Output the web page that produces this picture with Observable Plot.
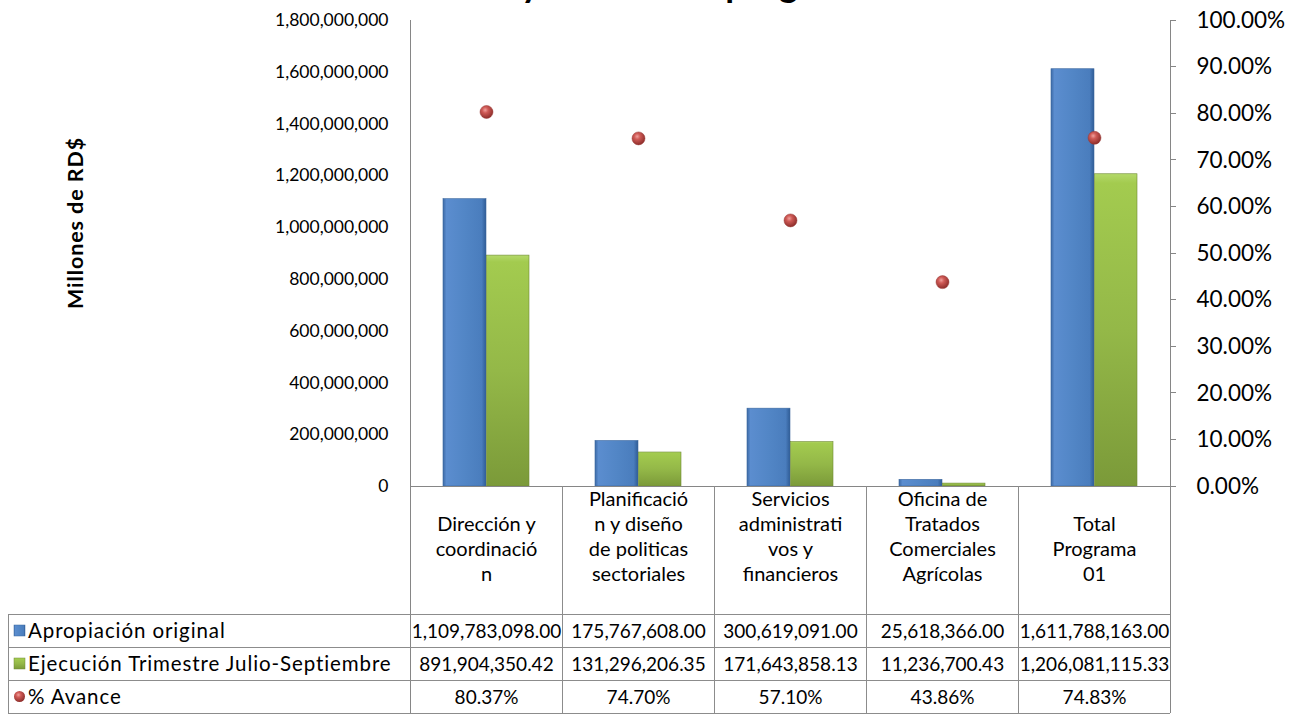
<!DOCTYPE html>
<html>
<head>
<meta charset="utf-8">
<script src="https://cdn.jsdelivr.net/npm/d3@7"></script>
<script src="https://cdn.jsdelivr.net/npm/@observablehq/plot@0.6"></script>
<style>
html, body { margin: 0; padding: 0; background: #fff; }
#chart { position: relative; width: 1292px; height: 721px; overflow: hidden; }
#chart svg { font-family: Lato, "Open Sans", sans-serif; }
</style>
</head>
<body>
<div id="chart"></div>
<script>
// ---- Data ----
const categories = [
  "Dirección y coordinación",
  "Planificación y diseño de politicas sectoriales",
  "Servicios administrativos y financieros",
  "Oficina de Tratados Comerciales Agrícolas",
  "Total Programa 01"
];
const categoryLines = [
  ["Dirección y", "coordinació", "n"],
  ["Planificació", "n y diseño", "de politicas", "sectoriales"],
  ["Servicios", "administrati", "vos y", "financieros"],
  ["Oficina de", "Tratados", "Comerciales", "Agrícolas"],
  ["Total", "Programa", "01"]
];
const apropiacion = [1109783098.00, 175767608.00, 300619091.00, 25618366.00, 1611788163.00];
const ejecucion = [891904350.42, 131296206.35, 171643858.13, 11236700.43, 1206081115.33];
const avance = [80.37, 74.70, 57.10, 43.86, 74.83];
const seriesNames = ["Apropiación original", "Ejecución Trimestre Julio-Septiembre", "% Avance"];
const leftTicks = [0, 200000000, 400000000, 600000000, 800000000, 1000000000, 1200000000, 1400000000, 1600000000, 1800000000];
const rightTicks = [0, 10, 20, 30, 40, 50, 60, 70, 80, 90, 100];
const yMax = 1800000000;
const pctMax = 100;
const titleText = "Resultados y avance del programa 01";
const yAxisTitle = "Millones de RD$";

// ---- Build ----
const rows = categories.map((c, i) => ({
  cat: c, lines: categoryLines[i], aprop: apropiacion[i], ejec: ejecucion[i], pct: avance[i]
}));
const W = 1292, H = 721;
const mL = 408, mR = 120, mT = 20, mB = 235;
const pIn = 0.437, pOut = pIn / 2;
const bandW = (W - mL - mR) / categories.length * (1 - pIn);
const half = bandW / 2;
const pctToY = p => p / pctMax * yMax;
const fmtMoney = d3.format(",.2f");
const fmtPct = v => d3.format(".2f")(v) + "%";
const axisColor = "#868686";
const gridColor = "#8c8c8c";

const plot = Plot.plot({
  width: W, height: H,
  marginLeft: mL, marginRight: mR, marginTop: mT, marginBottom: mB,
  x: { domain: categories, type: "band", paddingInner: pIn, paddingOuter: pOut, axis: null },
  y: { domain: [0, yMax], axis: null },
  style: { fontFamily: "Lato, 'Open Sans', sans-serif", background: "#fff", color: "#000" },
  marks: [
    Plot.barY(rows, { x: "cat", y: "aprop", insetRight: half, fill: "url(#gBlue)", stroke: "#3b679e", strokeWidth: 0.6 }),
    Plot.barY(rows, { x: "cat", y: "ejec", insetLeft: half + 0.5, fill: "url(#gGreen)", stroke: "#6f8a35", strokeWidth: 0.6 }),
    Plot.dot(rows, { x: "cat", y: d => pctToY(d.pct), r: 6.5, fill: "url(#gRed)", stroke: "#9a3a37", strokeWidth: 0.5 }),
    // left tick labels
    Plot.text(leftTicks, { y: d => d, text: d => d3.format(",")(d), frameAnchor: "left", textAnchor: "end", dx: -20, fontSize: 17.5, fill: "#000" }),
    // right tick labels
    Plot.text(rightTicks, { y: d => pctToY(d), text: d => d3.format(".2f")(d) + "%", frameAnchor: "right", textAnchor: "start", dx: 24, fontSize: 22.5, fill: "#000" }),
    // category labels
    Plot.text(rows, { x: "cat", text: d => d.lines.join("\n"), frameAnchor: "bottom", lineAnchor: "bottom", dy: 94, fontSize: 20, lineHeight: 1.25, fill: "#000", ariaLabel: "category labels" }),
    // table values
    Plot.text(rows, { x: "cat", text: d => fmtMoney(d.aprop), frameAnchor: "bottom", lineAnchor: "middle", dy: 145, fontSize: 19, fill: "#000" }),
    Plot.text(rows, { x: "cat", text: d => fmtMoney(d.ejec), frameAnchor: "bottom", lineAnchor: "middle", dy: 178, fontSize: 19, fill: "#000" }),
    Plot.text(rows, { x: "cat", text: d => fmtPct(d.pct), frameAnchor: "bottom", lineAnchor: "middle", dy: 211, fontSize: 19, fill: "#000" })
  ]
});
document.getElementById("chart").appendChild(plot);

// ---- Decorations using the plot's scales ----
const svg = d3.select(plot);
svg.select('g[aria-label="category labels"]').style("letter-spacing", "0.6px");
const xs = plot.scale("x"), ys = plot.scale("y");
const step = xs.step || ((W - mL - mR) / (categories.length - pIn + 2 * pOut));
const bw = xs.bandwidth || step * (1 - pIn);
const colLeft = c => xs.apply(c) - (step - bw) / 2;
const xLeft = colLeft(categories[0]);
const xRight = colLeft(categories[categories.length - 1]) + step;
const y0 = ys.apply(0), yTop = ys.apply(yMax);
const rowsTop = y0 + 128, rowH = 33, legendX = 8;
const tableBottom = rowsTop + 3 * rowH;

const defs = svg.insert("defs", ":first-child");
const gb = defs.append("linearGradient").attr("id", "gBlue").attr("x1", 0).attr("x2", 1).attr("y1", 0).attr("y2", 0);
[[0, "#3c6aa6"], [0.08, "#5b8dcf"], [0.5, "#5286c6"], [0.9, "#4a7dbd"], [1, "#2f5c96"]].forEach(([o, c]) => gb.append("stop").attr("offset", o).attr("stop-color", c));
const gg = defs.append("linearGradient").attr("id", "gGreen").attr("x1", 0).attr("x2", 0).attr("y1", 0).attr("y2", 1);
[[0, "#b4d96a"], [0.03, "#a3cb4f"], [0.5, "#94b848"], [1, "#7b9a39"]].forEach(([o, c]) => gg.append("stop").attr("offset", o).attr("stop-color", c));
const gr = defs.append("radialGradient").attr("id", "gRed").attr("cx", 0.4).attr("cy", 0.35).attr("r", 0.65);
[[0, "#f0a09c"], [0.35, "#cf5a56"], [1, "#8e2e2b"]].forEach(([o, c]) => gr.append("stop").attr("offset", o).attr("stop-color", c));

const g = svg.append("g").attr("stroke", gridColor).attr("stroke-width", 1).attr("shape-rendering", "crispEdges");
// axis lines
g.append("line").attr("x1", xLeft).attr("x2", xRight).attr("y1", y0).attr("y2", y0).attr("stroke", axisColor);
g.append("line").attr("x1", xLeft).attr("x2", xLeft).attr("y1", yTop).attr("y2", tableBottom).attr("stroke", axisColor);
g.append("line").attr("x1", xRight).attr("x2", xRight).attr("y1", yTop).attr("y2", tableBottom).attr("stroke", axisColor);
// right ticks
rightTicks.forEach(t => {
  const yy = ys.apply(pctToY(t));
  g.append("line").attr("x1", xRight).attr("x2", xRight + 6).attr("y1", yy).attr("y2", yy).attr("stroke", axisColor);
});
// column separators
categories.slice(1).forEach(c => {
  const x = colLeft(c);
  g.append("line").attr("x1", x).attr("x2", x).attr("y1", y0).attr("y2", tableBottom);
});
// row lines
for (let k = 0; k <= 3; k++) {
  const yy = rowsTop + k * rowH;
  g.append("line").attr("x1", legendX).attr("x2", xRight).attr("y1", yy).attr("y2", yy);
}
g.append("line").attr("x1", legendX).attr("x2", legendX).attr("y1", rowsTop).attr("y2", tableBottom);

// legend keys + labels
const lg = svg.append("g").attr("text-anchor", "start");
seriesNames.forEach((name, i) => {
  const cy = rowsTop + (i + 0.5) * rowH;
  if (i === 0) lg.append("rect").attr("x", 14).attr("y", cy - 5.5).attr("width", 11).attr("height", 11).attr("fill", "url(#gBlue)").attr("stroke", "#3b679e").attr("stroke-width", 0.5);
  if (i === 1) lg.append("rect").attr("x", 14).attr("y", cy - 5.5).attr("width", 11).attr("height", 11).attr("fill", "url(#gGreen)").attr("stroke", "#6f8a35").attr("stroke-width", 0.5);
  if (i === 2) lg.append("circle").attr("cx", 19.5).attr("cy", cy).attr("r", 5.5).attr("fill", "url(#gRed)");
  lg.append("text").attr("x", 28).attr("y", cy).attr("dy", "0.35em").attr("text-anchor", "start")
    .attr("font-size", 20.5).style("letter-spacing", "0.9px").attr("fill", "#000").text(name);
});

// axis title
svg.append("text").attr("transform", `translate(75,223) rotate(-90)`).attr("text-anchor", "middle")
  .attr("dy", "0.35em").attr("font-size", 21.5).style("letter-spacing", "0.9px").attr("font-weight", "bold").attr("fill", "#000").text(yAxisTitle);

// chart title (mostly above the visible area, as in the reference)
const tt = svg.append("text").attr("x", 0).attr("y", -3).attr("text-anchor", "start")
  .attr("font-size", 30).attr("font-weight", "bold").attr("fill", "#000").text(titleText);
try {
  const node = tt.node();
  const iy = titleText.indexOf(" y ") + 1;
  const ip = titleText.indexOf("prog");
  const gap = node.getSubStringLength(iy, ip - iy);
  const fs = Math.max(24, Math.min(36, 30 * 205 / gap));
  tt.attr("font-size", fs);
  const pre = node.getSubStringLength(0, iy);
  tt.attr("x", 521 - pre);
} catch (e) {}
</script>
</body>
</html>
